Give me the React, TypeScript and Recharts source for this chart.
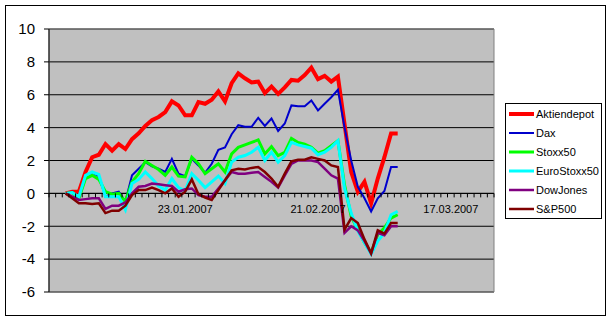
import { CartesianGrid, Line, LineChart, ReferenceArea, ReferenceLine, XAxis, YAxis } from "recharts"

// chart geometry (Excel-style layout)
const WIDTH = 611
const HEIGHT = 320
const Y_AXIS_W = 40
const X_AXIS_H = 28
const MARGIN = { top: 29, right: 117, bottom: 0, left: 49 - Y_AXIS_W }
const PLOT_H = HEIGHT - MARGIN.top - MARGIN.bottom - X_AXIS_H

const Y_MIN = -6
const Y_MAX = 10
const Y_TICKS = [-6, -4, -2, 0, 2, 4, 6, 8, 10]

// category axis: 67 trading-day slots, data fills slots 2..52
const CATEGORY_COUNT = 67
const FIRST_SLOT = 2
const LABEL_SLOTS = [20, 40, 60]
const DATE_LABELS = ["23.01.2007", "21.02.2007", "17.03.2007"]

const aktiendepot = [
    0, 0.1, 0.1, 1.3, 2.2, 2.35, 3.0, 2.6, 3.0, 2.7,
    3.3, 3.65, 4.1, 4.45, 4.65, 4.95, 5.6, 5.35, 4.75, 4.75,
    5.55, 5.45, 5.7, 6.2, 5.6, 6.7, 7.3, 7.0, 6.75, 6.8,
    6.1, 6.5, 6.05, 6.45, 6.9, 6.85, 7.2, 7.65, 6.95, 7.15,
    6.8, 7.1, 4.2, 1.3, 0.1, 0.7, -0.6, 0.9, 2.2, 3.65,
    3.65,
]
const dax = [
    0, 0.1, -0.3, 1.1, 1.25, 1.05, -0.2, 0.0, 0.1, -0.5,
    1.1, 1.5, 1.9, 1.65, 1.5, 1.3, 2.1, 1.2, 1.05, 2.1,
    1.7, 1.25, 1.8, 2.65, 2.8, 3.6, 4.15, 4.05, 4.05, 4.6,
    4.1, 4.55, 3.8, 4.25, 5.35, 5.3, 5.3, 5.65, 5.05, 5.45,
    5.85, 6.3, 4.0, 2.0, 0.4, -0.3, -1.1, -0.3, 0.15, 1.6,
    1.6,
]
const stoxx50 = [
    0, 0.05, -0.3, 0.9, 1.1, 0.85, 0.1, -0.05, 0.0, -0.5,
    0.7, 1.2, 1.95, 1.7, 1.45, 1.1, 1.6, 1.05, 1.0, 2.2,
    1.8, 1.2, 1.5, 1.8, 1.3, 2.4, 2.8, 2.95, 3.1, 3.25,
    2.4, 2.85, 2.3, 2.5, 3.35, 3.1, 3.0, 2.8, 2.45, 2.6,
    2.9, 3.2, 0.5, -1.4, -2.2, -3.0, -3.6, -2.5, -2.1, -1.5,
    -1.3,
]
const euroStoxx50 = [
    0, 0.05, -0.2, 1.1, 1.3, 1.15, -0.2, -0.2, -0.2, -1.0,
    0.6, 0.85, 1.3, 0.9, 0.45, 0.2, 0.9, 0.35, 0.15, 1.2,
    0.8, 0.35, 0.7, 1.05, 0.6, 1.9, 2.2, 2.3, 2.5, 2.8,
    2.0, 2.5, 1.9, 2.3, 3.1, 2.95, 2.85, 2.75, 2.35, 2.5,
    2.8, 3.2, 0.3, -1.2, -2.3, -3.0, -3.7, -2.9, -2.4, -1.3,
    -1.1,
]
const dowJones = [
    0, -0.2, -0.4, -0.35, -0.3, -0.3, -0.95, -0.75, -0.75, -0.55,
    0.0, 0.4, 0.45, 0.6, 0.55, 0.5, 0.45, 0.1, 0.25, 0.3,
    -0.1, -0.2, -0.2, 0.3, 0.8, 1.3, 1.2, 1.2, 1.25, 1.3,
    1.0, 0.7, 0.35, 1.1, 1.8, 2.0, 2.0, 2.0, 1.9, 1.5,
    1.1, 0.9, -2.4, -2.0, -2.25, -2.9, -3.65, -2.4, -2.55, -2.0,
    -2.0,
]
const sp500 = [
    0, -0.3, -0.6, -0.6, -0.65, -0.6, -1.2, -1.05, -1.05, -0.75,
    -0.1, 0.2, 0.2, 0.35, 0.2, 0.0, 0.3, -0.2, 0.1, 0.85,
    -0.05, -0.25, -0.4, 0.2, 0.8, 1.4, 1.5, 1.45, 1.55, 1.6,
    1.3, 0.9, 0.4, 1.2, 1.95, 2.05, 2.05, 2.2, 2.1, 2.0,
    1.7, 1.6, -2.2, -1.5, -1.8, -2.8, -3.65, -2.25, -2.45, -1.8,
    -1.8,
]

const SERIES = [
    { key: "Aktiendepot", values: aktiendepot, color: "#FF0000", width: 4 },
    { key: "Dax", values: dax, color: "#0000CC", width: 2 },
    { key: "Stoxx50", values: stoxx50, color: "#00FF00", width: 3 },
    { key: "EuroStoxx50", values: euroStoxx50, color: "#00FFFF", width: 3 },
    { key: "DowJones", values: dowJones, color: "#800080", width: 2.5 },
    { key: "S&P500", values: sp500, color: "#800000", width: 2.5 },
]

const FONT = "'Liberation Sans', Arial, sans-serif"

// each point sits in the middle of its category slot
const chartData = aktiendepot.map((_, i) => {
    const row: Record<string, number> = { slot: FIRST_SLOT + i + 0.5 }
    SERIES.forEach(s => { row[s.key] = s.values[i] })
    return row
})

const boundaryTicks = Array.from({ length: CATEGORY_COUNT + 1 }, (_, k) => k)
const labelTicks = LABEL_SLOTS.map(s => s + 0.5)
const allTicks = [...boundaryTicks, ...labelTicks].sort((a, b) => a - b)

// the category axis crosses at y = 0, in the middle of the plot
const ZERO_Y = MARGIN.top + PLOT_H * (Y_MAX / (Y_MAX - Y_MIN))

function CategoryTick(props: any) {
    const { x, payload } = props
    const idx = labelTicks.indexOf(payload.value)
    if (idx < 0) {
        return <line x1={x} x2={x} y1={ZERO_Y} y2={ZERO_Y + 4} stroke="#000" />
    }
    return (
        <text x={x} y={ZERO_Y + 20} textAnchor="middle" fontSize={11} fontFamily={FONT} fill="#000">
            {DATE_LABELS[idx]}
        </text>
    )
}

function ChartLegend() {
    return (
        <div
            style={{
                position: "absolute",
                left: 505,
                top: 103,
                width: 95,
                height: 113,
                border: "1px solid #000",
                background: "#fff",
                fontFamily: FONT,
                fontSize: 11,
                paddingTop: 1,
                boxSizing: "content-box",
            }}
        >
            {SERIES.map(s => (
                <div key={s.key} style={{ display: "flex", alignItems: "center", height: 18.9 }}>
                    <svg width={29} height={10} style={{ display: "block" }}>
                        <line x1={3} x2={28} y1={5} y2={5} stroke={s.color} strokeWidth={s.width} />
                    </svg>
                    <span style={{ marginLeft: 1 }}>{s.key}</span>
                </div>
            ))}
        </div>
    )
}

export default function App() {
    return (
        <div style={{ position: "relative", width: WIDTH, height: HEIGHT, background: "#fff" }}>
            <style>{"body{margin:0}"}</style>
            <LineChart width={WIDTH} height={HEIGHT} data={chartData} margin={MARGIN}>
                <CartesianGrid vertical={false} fill="#C0C0C0" stroke="#000" />
                <ReferenceArea
                    x1={0}
                    x2={CATEGORY_COUNT}
                    y1={Y_MIN}
                    y2={Y_MAX}
                    fill="none"
                    stroke="#808080"
                    strokeWidth={1}
                />
                <XAxis
                    dataKey="slot"
                    type="number"
                    domain={[0, CATEGORY_COUNT]}
                    ticks={allTicks}
                    interval={0}
                    height={X_AXIS_H}
                    axisLine={false}
                    tickLine={false}
                    tick={<CategoryTick />}
                />
                <YAxis
                    type="number"
                    domain={[Y_MIN, Y_MAX]}
                    ticks={Y_TICKS}
                    interval={0}
                    width={Y_AXIS_W}
                    tickSize={5}
                    tickMargin={9}
                    axisLine={{ stroke: "#000" }}
                    tickLine={{ stroke: "#000" }}
                    tick={{ fill: "#000", fontSize: 15, fontFamily: FONT }}
                />
                <ReferenceLine y={0} stroke="#000" />
                {SERIES.map(s => (
                    <Line
                        key={s.key}
                        dataKey={s.key}
                        type="linear"
                        stroke={s.color}
                        strokeWidth={s.width}
                        dot={false}
                        activeDot={false}
                        isAnimationActive={false}
                    />
                ))}
            </LineChart>
            <ChartLegend />
            <div
                style={{
                    position: "absolute",
                    left: 5,
                    top: 5,
                    width: 599,
                    height: 309,
                    border: "1px solid #000",
                    pointerEvents: "none",
                }}
            />
        </div>
    )
}
